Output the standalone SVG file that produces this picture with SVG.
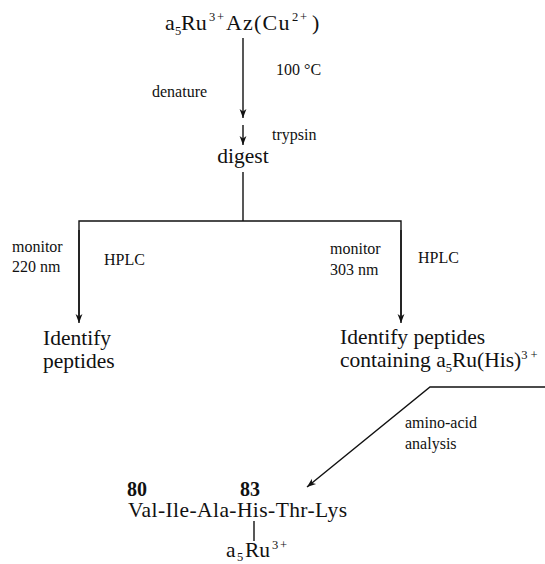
<svg xmlns="http://www.w3.org/2000/svg" width="545" height="564" viewBox="0 0 545 564">
<style>
text{font-family:"Liberation Serif","Times New Roman",serif;fill:#111}
.m{font-size:21.5px}
.t{font-size:22px}
.s{font-size:16px}
.sup{font-size:12.5px}
.b{font-weight:bold;font-size:20px}
.ln{stroke:#111;stroke-width:1.4;fill:none}
</style>
<defs>
<marker id="ah" markerUnits="userSpaceOnUse" markerWidth="12" markerHeight="10" refX="10" refY="5" orient="auto" viewBox="0 0 12 10">
<path d="M1,1.6 L10,5 L1,8.4 L3.5,5 Z" fill="#111"/>
</marker>
</defs>
<rect width="545" height="564" fill="#fff"/>
<g id="connectors">
<line class="ln" x1="243" y1="38" x2="243" y2="118" marker-end="url(#ah)"/>
<line class="ln" x1="243" y1="125" x2="243" y2="145" marker-end="url(#ah)"/>
<polyline class="ln" points="243,172 243,221"/>
<polyline class="ln" points="79,316 79,221 401,221 401,316"/>
<line class="ln" x1="79" y1="230" x2="79" y2="323" marker-end="url(#ah)"/>
<line class="ln" x1="401" y1="230" x2="401" y2="323" marker-end="url(#ah)"/>
<polyline class="ln" points="545,387 430,387 307,487" marker-end="url(#ah)"/>
<line class="ln" x1="254" y1="521" x2="254" y2="541"/>
</g>
<g id="start">
<text class="t" y="30"><tspan x="165">a</tspan><tspan class="sup" x="175" y="35">5</tspan><tspan x="181" y="30">Ru</tspan><tspan class="sup" x="209" y="21">3</tspan><tspan class="sup" x="217" y="21">+</tspan><tspan x="226" y="30" letter-spacing="1.2">Az(Cu</tspan><tspan class="sup" x="292" y="21">2</tspan><tspan class="sup" x="300" y="21">+</tspan><tspan x="312" y="30">)</tspan></text>
</g>
<g id="labels-top">
<text class="s" x="276" y="75">100 °C</text>
<text class="s" x="152" y="97">denature</text>
<text class="s" x="272" y="140">trypsin</text>
</g>
<g id="digest">
<text class="m" x="243" y="163" text-anchor="middle">digest</text>
</g>
<g id="labels-branch">
<text class="s" x="12" y="252">monitor</text>
<text class="s" x="12" y="272">220 nm</text>
<text class="s" x="104" y="265">HPLC</text>
<text class="s" x="330" y="254">monitor</text>
<text class="s" x="330" y="275">303 nm</text>
<text class="s" x="418" y="263">HPLC</text>
</g>
<g id="identify-left">
<text class="m" x="43" y="345">Identify</text>
<text class="m" x="43" y="368">peptides</text>
</g>
<g id="identify-right">
<text class="m" x="340" y="344">Identify peptides</text>
<text class="m" x="340" y="367">containing a<tspan class="sup" dy="5">5</tspan><tspan dy="-5">Ru(His)</tspan><tspan class="sup" dy="-8">3 +</tspan></text>
</g>
<g id="labels-analysis">
<text class="s" x="405" y="428">amino-acid</text>
<text class="s" x="405" y="449">analysis</text>
</g>
<g id="peptide">
<text class="b" x="127" y="496">80</text>
<text class="b" x="240" y="496">83</text>
<text class="m" x="128" y="517" textLength="219">Val-Ile-Ala-His-Thr-Lys</text>
<text class="m" y="557"><tspan x="226">a</tspan><tspan class="sup" x="237" y="561">5</tspan><tspan x="245" y="557">Ru</tspan><tspan class="sup" x="272" y="549">3</tspan><tspan class="sup" x="280" y="549">+</tspan></text>
</g>
</svg>
